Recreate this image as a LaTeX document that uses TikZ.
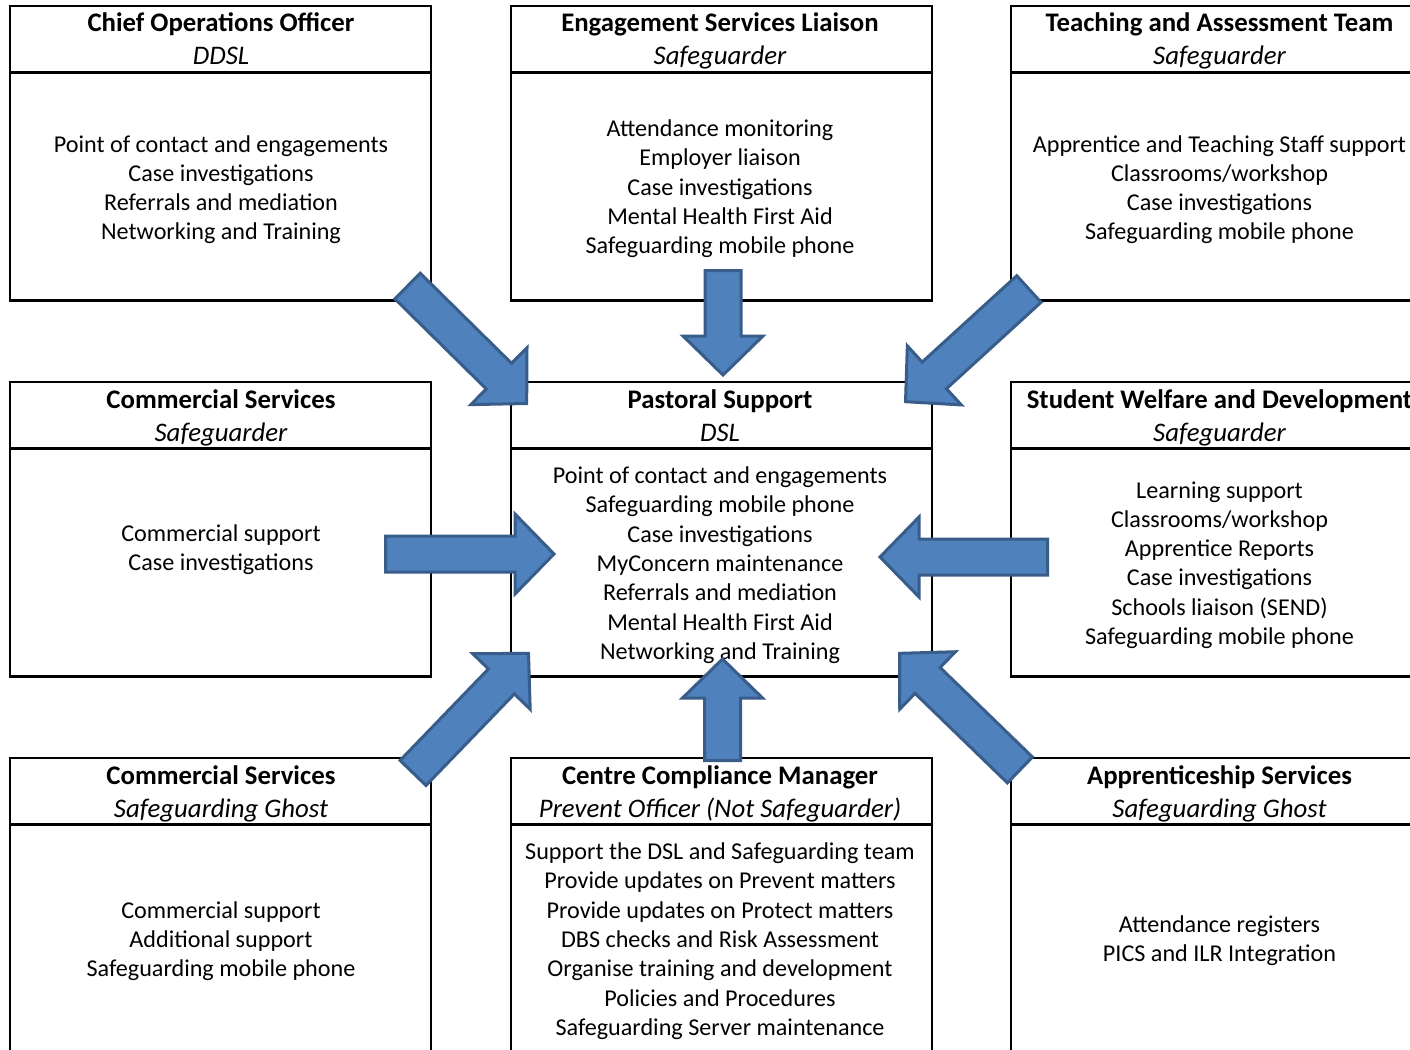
\documentclass[tikz,border=0pt]{standalone}
\usepackage{fontspec}
\setmainfont{Carlito}
\tikzset{
  panel/.style={draw=black, line width=2.2pt, minimum width=421pt, minimum height=294.5pt, inner sep=0pt, outer sep=0pt},
  rulel/.style={draw=black, line width=2.2pt},
  titletext/.style={anchor=base, inner sep=0pt, font=\fontsize{26.8}{30}\selectfont\bfseries},
  subtext/.style={anchor=base, inner sep=0pt, font=\fontsize{26.8}{30}\selectfont\itshape},
  bodytext/.style={anchor=base, inner sep=0pt, font=\fontsize{24.15}{29.3}\selectfont},
  arrowbody/.style={fill=arrowblue, draw=arrowedge, line width=3pt, line join=miter},
  pics/blockarrow/.style={code={
    \path[arrowbody] (1.5,-18) -- ({#1-41},-18) -- ({#1-41},-40) -- ({#1-2},0) -- ({#1-41},40) -- ({#1-41},18) -- (1.5,18) -- cycle;
  }}
}
\definecolor{arrowblue}{HTML}{4F81BD}
\definecolor{arrowedge}{HTML}{385D8A}
% #1 name, #2 left x, #3 top y, #4 title, #5 subtitle, #6 first body baseline, #7 body lines, #8 text centre x
\newcommand\panelbox[8]{%
  \node[panel, anchor=north west] (#1) at (#2,#3) {};
  \draw[rulel] (#1.west |- 0,{#3+66.5}) -- (#1.east |- 0,{#3+66.5});
  \node[titletext] (#1-t) at (#8,{#3+26}) {#4};
  \node[subtext] (#1-s) at (#8,{#3+59}) {#5};
  \foreach \bodyline [count=\i from 0] in {#7}
    \node[bodytext] (#1-\i) at (#8,{#6+\i*29.3}) {\bodyline};
}
\begin{document}
\begin{tikzpicture}[x=1pt,y=-1pt]
\useasboundingbox (0,0) rectangle (1410,1049);
\clip (0,0) rectangle (1410,1049);
\fill[white] (0,0) rectangle (1410,1049);
% top row
\panelbox{tl}{10}{6}{Chief Operations Officer}{DDSL}{152}{Point of contact and engagements,Case investigations,Referrals and mediation,Networking and Training}{221}
\panelbox{tm}{511}{6}{Engagement Services Liaison}{Safeguarder}{136.5}{Attendance monitoring,Employer liaison,Case investigations,Mental Health First Aid,Safeguarding mobile phone}{720}
\panelbox{tr}{1011}{6}{Teaching and Assessment Team}{Safeguarder}{152}{Apprentice and Teaching Staff support,{Classrooms/workshop},Case investigations,Safeguarding mobile phone}{1219.5}
% middle row
\panelbox{ml}{10}{382}{Commercial Services}{Safeguarder}{541.5}{Commercial support,Case investigations}{221}
\panelbox{mc}{511}{382}{Pastoral Support}{DSL}{483.5}{Point of contact and engagements,Safeguarding mobile phone,Case investigations,MyConcern maintenance,Referrals and mediation,Mental Health First Aid,Networking and Training}{720}
\panelbox{mr}{1011}{382}{Student Welfare and Development}{Safeguarder}{498}{Learning support,{Classrooms/workshop},Apprentice Reports,Case investigations,Schools liaison (SEND),Safeguarding mobile phone}{1219.5}
% bottom row
\panelbox{bl}{10}{758}{Commercial Services}{Safeguarding Ghost}{918}{Commercial support,Additional support,Safeguarding mobile phone}{221}
\panelbox{bm}{511}{758}{Centre Compliance Manager}{Prevent Officer (Not Safeguarder)}{859.5}{Support the DSL and Safeguarding team,Provide updates on Prevent matters,Provide updates on Protect matters,DBS checks and Risk Assessment,Organise training and development,Policies and Procedures,Safeguarding Server maintenance}{720}
\panelbox{br}{1011}{758}{Apprenticeship Services}{Safeguarding Ghost}{932.5}{Attendance registers,PICS and ILR Integration}{1219.5}
% block arrows
\pic[rotate=-44.6] (atl) at (406.5,285) {blockarrow=170.8};
\pic[rotate=-90] (atm) at (723,269) {blockarrow=108};
\pic[rotate=-137.6] (atr) at (1030,288) {blockarrow=170.6};
\pic[rotate=0] (aml) at (384,554) {blockarrow=172};
\pic[rotate=180] (amr) at (1049,557) {blockarrow=171};
\pic[rotate=46] (abl) at (412,774) {blockarrow=169.7};
\pic[rotate=90] (abm) at (722.5,762) {blockarrow=105};
\pic[rotate=135.9] (abr) at (1021,771) {blockarrow=171.1};
\end{tikzpicture}
\end{document}
